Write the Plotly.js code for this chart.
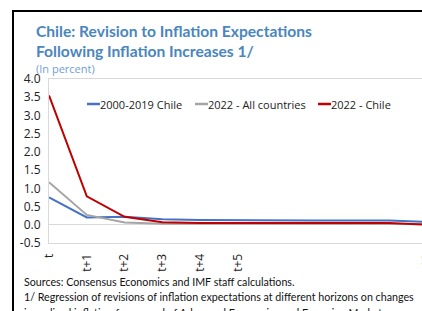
<!DOCTYPE html>
<html>
<head>
<meta charset="utf-8">
<script src="https://cdn.plot.ly/plotly-3.0.1.min.js"></script>
<style>
html, body { margin:0; padding:0; overflow:hidden; background:#fff; }
#wrap { position:absolute; left:0; top:0; width:422px; height:311px; overflow:hidden; }
#frame { position:absolute; left:12px; top:10px; width:460px; height:400px; border:2px solid #000; box-sizing:border-box; pointer-events:none; }
#chart { position:absolute; left:0; top:0; }
</style>
</head>
<body>
<div id="wrap">
  <div id="chart"></div>
  <div id="frame"></div>
</div>
<script>
// ---- Data ----
const categories = ["t","t+1","t+2","t+3","t+4","t+5","t+6","t+7","t+8","t+9","t+10"];
const tickLabels = ["t","t+1","t+2","t+3","t+4","t+5","","","","","t+10"];
const seriesNames = ["2000-2019 Chile", "2022 - All countries", "2022 - Chile"];
const chile2000_2019 = [0.75, 0.20, 0.22, 0.15, 0.13, 0.12, 0.12, 0.12, 0.12, 0.12, 0.08];
const allCountries2022 = [1.17, 0.27, 0.06, 0.03, 0.03, 0.03, 0.03, 0.03, 0.03, 0.03, 0.02];
const chile2022 = [3.55, 0.78, 0.22, 0.07, 0.05, 0.05, 0.05, 0.05, 0.05, 0.05, 0.00];
const yTicks = [-0.5, 0, 0.5, 1, 1.5, 2, 2.5, 3, 3.5, 4];
const titleLines = ["Chile: Revision to Inflation Expectations", "Following Inflation Increases 1/"];
const subtitle = "(In percent)";
const notes = [
  "Sources: Consensus Economics and IMF staff calculations.",
  "1/ Regression of revisions of inflation expectations at different horizons on changes",
  "in realized inflation for a panel of Advanced Economies and Emerging Markets."
];

const W = 440, H = 311;
const M = {l:49, r:13, t:79, b:68};
const pw = W - M.l - M.r, ph = H - M.t - M.b;
const px2x = x => (x - M.l) / pw;
const px2y = y => (H - M.b - y) / ph;

const xIdx = categories.map((c, i) => i);
const colors = ["#4472C4", "#A5A5A5", "#C00000"];
const seriesVals = [chile2000_2019, allCountries2022, chile2022];

const traces = seriesVals.map((v, k) => ({
  x: xIdx, y: v, type: "scatter", mode: "lines", name: seriesNames[k],
  line: {color: colors[k], width: 2},
  hoverinfo: "skip", showlegend: false
}));

const font = "Lato, Open Sans, sans-serif";
const tickFont = "Open Sans, sans-serif";

// manual legend (short line keys as in the original)
const legendX = [87, 195, 318];
const legendY = 104;
const shapes = [];
const annotations = [];
seriesNames.forEach((n, k) => {
  shapes.push({type: "line", xref: "paper", yref: "paper",
    x0: px2x(legendX[k]), x1: px2x(legendX[k] + 13), y0: px2y(legendY), y1: px2y(legendY),
    line: {color: colors[k], width: 2.5}});
  annotations.push({text: n, xref: "paper", yref: "paper", x: px2x(legendX[k] + 13), y: px2y(legendY),
    xanchor: "left", yanchor: "middle", showarrow: false, xshift: -2,
    font: {family: tickFont, size: 11, color: "#222"}});
});

const titleY = [31, 51];
titleLines.forEach((t, i) => annotations.push({
  text: "<b>" + t + "</b>", xref: "paper", yref: "paper", x: px2x(34), y: px2y(titleY[i]),
  xanchor: "left", yanchor: "middle", showarrow: false,
  font: {family: font, size: 15.6, color: "#4A86BE"}}));

annotations.push({text: subtitle, xref: "paper", yref: "paper", x: px2x(34), y: px2y(68.5), xanchor: "left", yanchor: "middle",
   showarrow: false, font: {family: tickFont, size: 11, color: "#6FA0D4"}});

const noteY = [281, 296.5, 312];
notes.forEach((t, i) => annotations.push({
  text: t, xref: "paper", yref: "paper", x: px2x(22), y: px2y(noteY[i]),
  xanchor: "left", yanchor: "middle", showarrow: false,
  font: {family: font, size: 10.7, color: "#111"}}));

const layout = {
  width: W, height: H,
  margin: M,
  paper_bgcolor: "#fff", plot_bgcolor: "#fff",
  showlegend: false,
  shapes: shapes,
  annotations: annotations,
  xaxis: {
    range: [0, 10], tickvals: xIdx, ticktext: tickLabels, tickangle: -90,
    showgrid: false, zeroline: false, showline: true, mirror: true, linecolor: "#d9d9d9", linewidth: 1,
    ticks: "", ticklabelstandoff: 5, tickfont: {family: tickFont, size: 12, color: "#222"}, fixedrange: true
  },
  yaxis: {
    range: [-0.5, 4.0], tickvals: yTicks, ticktext: yTicks.map(v => v.toFixed(1)),
    showgrid: false, zeroline: true, zerolinecolor: "#d9d9d9", zerolinewidth: 1,
    showline: true, mirror: true, linecolor: "#d9d9d9", linewidth: 1,
    ticks: "", ticklabelstandoff: 5, tickfont: {family: tickFont, size: 12, color: "#222"}, fixedrange: true
  }
};

Plotly.newPlot("chart", traces, layout, {displayModeBar: false, staticPlot: true});
</script>
</body>
</html>
